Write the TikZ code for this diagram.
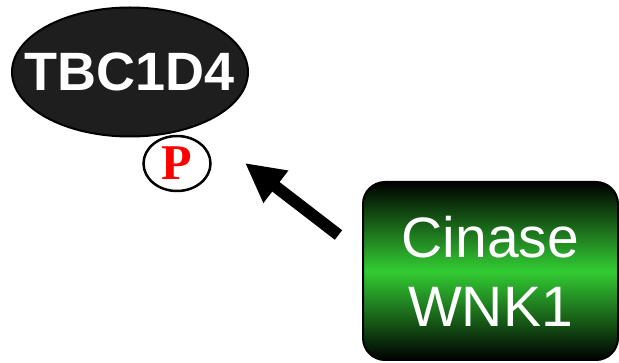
\documentclass[tikz,border=0pt]{standalone}
\usepackage{fontspec}
\setmainfont{Liberation Sans}
\newfontfamily\serifbold{Liberation Serif}
\usetikzlibrary{shapes.geometric,arrows.meta}
\definecolor{ellfill}{HTML}{1E1E1E}
\definecolor{brightgreen}{HTML}{33CC33}
\tikzset{
  protein/.style={ellipse,draw=black,line width=2pt,fill=ellfill,text=white,
    inner xsep=-22pt,inner ysep=0pt,minimum width=236pt,minimum height=129pt,
    font=\fontsize{54}{60}\selectfont\bfseries},
  phospho/.style={ellipse,draw=black,line width=2.5pt,fill=white,text=red,
    inner sep=0pt,minimum width=67pt,minimum height=55pt,
    font=\serifbold\bfseries\fontsize{50}{54}\selectfont},
  kinase/.style={rectangle,rounded corners=22pt,draw=black,line width=2pt,
    top color=black,bottom color=black,middle color=brightgreen,text=white,
    inner sep=0pt,minimum width=255pt,minimum height=178pt,align=center,
    font=\fontsize{57}{69}\selectfont},
  bigarrow/.style={line width=12pt,-{Triangle[length=39pt,width=38pt]}}
}
\begin{document}
\begin{tikzpicture}[x=1pt,y=-1pt]
\useasboundingbox (0,0) rectangle (619,363);
\node[phospho] (p) at (177,163.5) {P};
\node[protein] (tbc) at (130,72) {TBC1D4};
\node[kinase] (wnk) at (490.5,271) {Cinase\\WNK1};
\coordinate (arrowtail) at (338.5,235);
\coordinate (arrowtip) at (245,163);
\draw[bigarrow] (arrowtail) -- (arrowtip);
\end{tikzpicture}
\end{document}
